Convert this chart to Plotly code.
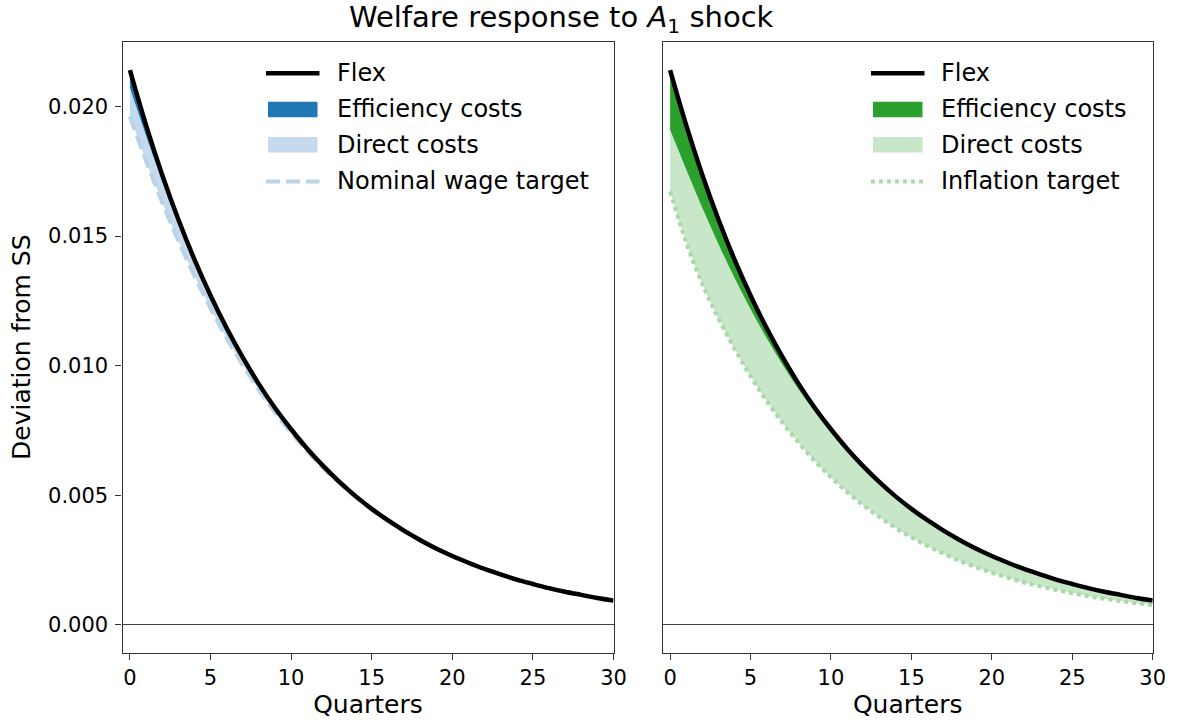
import plotly.graph_objects as go

# Quarters after the shock
quarters = list(range(31))

# Welfare deviation from steady state under flexible prices/wages
flex = [0.02140, 0.01928, 0.01737, 0.01565, 0.01410, 0.01271, 0.01145, 0.01032,
        0.00929, 0.00837, 0.00755, 0.00680, 0.00613, 0.00552, 0.00497, 0.00448,
        0.00404, 0.00364, 0.00328, 0.00295, 0.00266, 0.00240, 0.00216, 0.00195,
        0.00175, 0.00158, 0.00142, 0.00128, 0.00116, 0.00104, 0.00094]

# Left panel: nominal wage targeting
wage_efficient = [0.02072, 0.01887, 0.01713, 0.01550, 0.01401, 0.01266, 0.01142, 0.01030,
                  0.00928, 0.00836, 0.00754, 0.00679, 0.00612, 0.00551, 0.00496, 0.00447,
                  0.00403, 0.00363, 0.00327, 0.00294, 0.00265, 0.00239, 0.00215, 0.00194,
                  0.00174, 0.00157, 0.00141, 0.00127, 0.00115, 0.00103, 0.00093]
wage_target = [0.01961, 0.01790, 0.01631, 0.01483, 0.01347, 0.01222, 0.01107, 0.01003,
               0.00907, 0.00820, 0.00742, 0.00670, 0.00605, 0.00546, 0.00492, 0.00444,
               0.00401, 0.00362, 0.00326, 0.00293, 0.00265, 0.00239, 0.00215, 0.00194,
               0.00174, 0.00157, 0.00141, 0.00127, 0.00115, 0.00103, 0.00093]

# Right panel: inflation targeting
infl_efficient = [0.01910, 0.01757, 0.01609, 0.01470, 0.01339, 0.01218, 0.01106, 0.01003,
                  0.00907, 0.00821, 0.00743, 0.00671, 0.00606, 0.00547, 0.00493, 0.00445,
                  0.00402, 0.00362, 0.00327, 0.00294, 0.00265, 0.00239, 0.00215, 0.00194,
                  0.00175, 0.00158, 0.00142, 0.00128, 0.00115, 0.00104, 0.00094]
infl_target = [0.01672, 0.01475, 0.01315, 0.01183, 0.01066, 0.00959, 0.00864, 0.00779,
               0.00702, 0.00632, 0.00570, 0.00513, 0.00462, 0.00417, 0.00375, 0.00338,
               0.00305, 0.00275, 0.00247, 0.00223, 0.00201, 0.00182, 0.00164, 0.00149,
               0.00135, 0.00123, 0.00111, 0.00101, 0.00092, 0.00084, 0.00077]

x_ticks = [0, 5, 10, 15, 20, 25, 30]
y_ticks = [0.000, 0.005, 0.010, 0.015, 0.020]
y_tick_text = ["0.000", "0.005", "0.010", "0.015", "0.020"]

legend_labels = ["Flex", "Efficiency costs", "Direct costs"]

FONT = "DejaVu Sans"
W, H = 1178, 724
PW = 1165  # width plotly lays the page out with


def px(v):
    return v / PW


def py(v):
    return 1 - v / H


panels = [
    dict(xa="x", ya="y", eff=wage_efficient, tgt=wage_target,
         dark="#1f77b4", light="#c5daec", tline="#b9d3e8", dash="14px,6px",
         tname="Nominal wage target", leg_x=266, txt_x=334.5),
    dict(xa="x2", ya="y2", eff=infl_efficient, tgt=infl_target,
         dark="#2ca02c", light="#c8e6c8", tline="#a9d9a9", dash="4px,4px",
         tname="Inflation target", leg_x=871, txt_x=939),
]

fig = go.Figure()
shapes, annotations = [], []
row_y = [73.3, 109.5, 144.7, 181.5]

for p in panels:
    common = dict(x=quarters, xaxis=p["xa"], yaxis=p["ya"], mode="lines",
                  hoverinfo="skip", showlegend=False)
    # base of the direct-cost band (target path), no outline
    fig.add_trace(go.Scatter(y=p["tgt"], line=dict(width=0, color=p["light"], shape="spline"),
                             **common))
    # direct costs: band between target path and efficient path
    fig.add_trace(go.Scatter(y=p["eff"], line=dict(width=0, color=p["light"], shape="spline"),
                             fill="tonexty", fillcolor=p["light"], name="Direct costs",
                             **common))
    # efficiency costs: band between efficient path and flex
    fig.add_trace(go.Scatter(y=flex, line=dict(width=0, color=p["dark"], shape="spline"),
                             fill="tonexty", fillcolor=p["dark"], name="Efficiency costs",
                             **common))
    # policy target path
    fig.add_trace(go.Scatter(y=p["tgt"], name=p["tname"],
                             line=dict(width=4, color=p["tline"], dash=p["dash"], shape="spline"),
                             **common))
    # flex benchmark
    fig.add_trace(go.Scatter(y=flex, name="Flex",
                             line=dict(width=4.5, color="black", shape="spline"), **common))

    # legend keys
    x0, x1 = p["leg_x"], p["leg_x"] + 53.5
    shapes.append(dict(type="line", xref="paper", yref="paper", x0=px(x0), x1=px(x1),
                       y0=py(row_y[0]), y1=py(row_y[0]),
                       line=dict(color="black", width=4.5)))
    for r, col in ((1, p["dark"]), (2, p["light"])):
        shapes.append(dict(type="rect", xref="paper", yref="paper",
                           x0=px(x0 + 2), x1=px(x1 - 2),
                           y0=py(row_y[r] - 7.8), y1=py(row_y[r] + 7.8),
                           fillcolor=col, line=dict(width=0)))
    shapes.append(dict(type="line", xref="paper", yref="paper", x0=px(x0), x1=px(x1),
                       y0=py(row_y[3]), y1=py(row_y[3]),
                       line=dict(color=p["tline"], width=4, dash=p["dash"])))
    for r, label in enumerate(legend_labels + [p["tname"]]):
        annotations.append(dict(text=label, xref="paper", yref="paper",
                                x=px(p["txt_x"]), y=py(row_y[r]),
                                xanchor="left", yanchor="middle", showarrow=False,
                                font=dict(family=FONT, size=24, color="black")))

y_top = py(41.7)
y_bot = py(652.7)

axis_common = dict(showline=True, linecolor="#333333", linewidth=1.3, mirror=True,
                   showgrid=False, ticks="outside", ticklen=6, tickwidth=1.2,
                   tickcolor="#333333", tickfont=dict(family=FONT, size=21, color="black"))

fig.update_layout(
    width=W, height=H, autosize=False,
    margin=dict(l=0, r=0, t=0, b=0),
    paper_bgcolor="white", plot_bgcolor="white",
    font=dict(family=FONT, color="black"),
    showlegend=False,
    title=dict(text="Welfare response to <i>A</i><sub>1</sub> shock",
               x=px(555), xanchor="center", y=py(17), yanchor="middle",
               font=dict(family=FONT, size=29, color="black")),
    xaxis=dict(domain=[px(122.5), px(613.5)], range=[-0.46, 30], tickvals=x_ticks,
               ticklabelstandoff=0,
               title=dict(text="Quarters", font=dict(family=FONT, size=25), standoff=2),
               **axis_common),
    xaxis2=dict(domain=[px(662.7), px(1152.7)], range=[-0.46, 30], tickvals=x_ticks,
                ticklabelstandoff=0,
                title=dict(text="Quarters", font=dict(family=FONT, size=25), standoff=2),
                **axis_common),
    yaxis=dict(domain=[y_bot, y_top], range=[-0.00107, 0.02250], tickvals=y_ticks,
               ticktext=y_tick_text, ticklabelstandoff=3,
               title=dict(text="Deviation from SS", font=dict(family=FONT, size=25), standoff=10),
               zeroline=True, zerolinecolor="#444444", zerolinewidth=1, **axis_common),
    yaxis2=dict(domain=[y_bot, y_top], range=[-0.00107, 0.02250], anchor="x2",
                showticklabels=False, zeroline=True, zerolinecolor="#444444",
                zerolinewidth=1,
                **{**axis_common, "ticks": ""}),
    shapes=shapes,
    annotations=annotations,
)

fig.write_html("out.html")
